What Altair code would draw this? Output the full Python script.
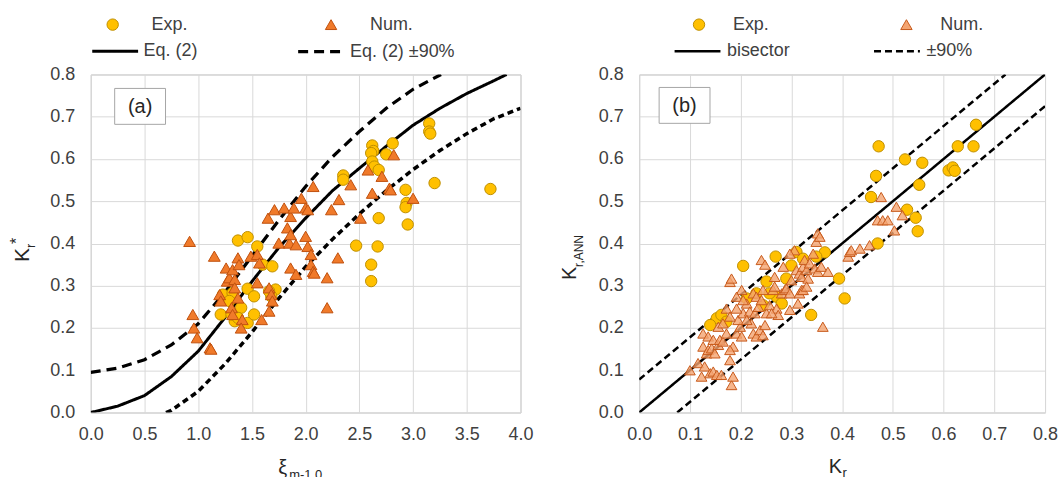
import altair as alt
import pandas as pd

FONT = "Liberation Sans"
TXT = "#404040"

# ---------------- Panel (a) data ----------------
a_exp_x = [3.15, 3.15, 3.16, 3.20, 3.72, 2.93, 2.94, 2.93, 2.95, 2.81, 2.75, 2.62, 2.63, 2.61,
           2.62, 2.64, 2.68, 2.68, 2.67, 2.61, 2.61, 2.47, 2.35, 2.35, 1.37, 1.46, 1.55, 1.60,
           1.69, 1.72, 1.46, 1.52, 1.23, 1.21, 1.32, 1.34, 1.31, 1.40, 1.46, 1.52, 1.68, 1.66,
           1.29, 1.37]
a_exp_y = [0.684, 0.665, 0.660, 0.543, 0.529, 0.527, 0.496, 0.486, 0.445, 0.637, 0.611, 0.632,
           0.619, 0.614, 0.594, 0.582, 0.574, 0.460, 0.393, 0.350, 0.311, 0.395, 0.561, 0.551,
           0.407, 0.415, 0.393, 0.350, 0.346, 0.291, 0.293, 0.275, 0.279, 0.232, 0.283, 0.216,
           0.232, 0.248, 0.212, 0.232, 0.275, 0.287, 0.264, 0.224]

a_num_x = [0.92, 0.95, 0.96, 0.99, 1.11, 1.12, 1.15, 1.20, 1.21, 1.26, 1.27, 1.29, 1.32, 1.34,
           1.34, 1.31, 1.32, 1.37, 1.38, 1.37, 1.41, 1.40, 1.49, 1.55, 1.57, 1.55, 1.59, 1.65,
           1.71, 1.66, 1.68, 1.69, 1.66, 1.75, 1.80, 1.83, 1.85, 1.86, 1.86, 1.89, 1.91, 1.86,
           1.91, 1.96, 2.00, 2.02, 2.00, 2.02, 2.05, 2.05, 2.07, 2.08, 2.07, 2.20, 2.20, 2.24,
           2.30, 2.31, 2.42, 2.51, 2.58, 2.62, 2.71, 2.78, 2.79, 2.82, 3.00]
a_num_y = [0.405, 0.232, 0.200, 0.177, 0.153, 0.150, 0.370, 0.279, 0.264, 0.342, 0.311, 0.319,
           0.338, 0.315, 0.295, 0.248, 0.232, 0.366, 0.350, 0.271, 0.220, 0.200, 0.370, 0.374,
           0.354, 0.307, 0.220, 0.460, 0.480, 0.295, 0.279, 0.264, 0.240, 0.401, 0.484, 0.437,
           0.401, 0.421, 0.464, 0.484, 0.397, 0.342, 0.327, 0.507, 0.484, 0.480, 0.417, 0.393,
           0.374, 0.350, 0.334, 0.330, 0.535, 0.319, 0.248, 0.480, 0.366, 0.504, 0.539, 0.460,
           0.574, 0.519, 0.559, 0.531, 0.527, 0.610, 0.507]

# Eq. (2) curve and its +/-90% band
eq_x = [0.0, 0.25, 0.5, 0.75, 1.0, 1.25, 1.5, 1.75, 2.0, 2.25, 2.5, 2.75, 3.0, 3.25, 3.5, 3.75, 3.87]
eq_y = [0.0, 0.015, 0.040, 0.085, 0.145, 0.225, 0.310, 0.390, 0.460, 0.525, 0.578, 0.630, 0.680,
        0.720, 0.755, 0.785, 0.800]
up_x = [0.0, 0.25, 0.5, 0.75, 1.0, 1.25, 1.5, 1.75, 2.0, 2.25, 2.5, 2.75, 3.0, 3.26]
up_y = [0.095, 0.105, 0.125, 0.160, 0.210, 0.285, 0.370, 0.455, 0.535, 0.605, 0.665, 0.720, 0.765, 0.800]
lo_x = [0.70, 0.75, 1.0, 1.25, 1.5, 1.75, 2.0, 2.25, 2.5, 2.75, 3.0, 3.25, 3.5, 3.75, 4.0]
lo_y = [0.0, 0.005, 0.050, 0.115, 0.190, 0.270, 0.345, 0.410, 0.470, 0.525, 0.575, 0.620, 0.660, 0.695, 0.720]

# ---------------- Panel (b) data ----------------
b_exp_x = [0.664, 0.628, 0.659, 0.610, 0.618, 0.622, 0.558, 0.524, 0.472, 0.467, 0.457, 0.552,
           0.528, 0.545, 0.549, 0.470, 0.366, 0.349, 0.310, 0.269, 0.300, 0.205, 0.394, 0.405,
           0.339, 0.290, 0.251, 0.271, 0.244, 0.212, 0.281, 0.153, 0.162, 0.140, 0.172, 0.257,
           0.231, 0.323]
b_exp_y = [0.681, 0.630, 0.630, 0.573, 0.580, 0.572, 0.591, 0.599, 0.630, 0.560, 0.510, 0.539,
           0.480, 0.461, 0.429, 0.400, 0.379, 0.369, 0.380, 0.369, 0.348, 0.347, 0.317, 0.270,
           0.231, 0.317, 0.310, 0.274, 0.254, 0.270, 0.258, 0.223, 0.231, 0.207, 0.215, 0.282,
           0.282, 0.364]

b_num_x = [0.100, 0.116, 0.123, 0.129, 0.140, 0.146, 0.153, 0.162, 0.182, 0.185, 0.179, 0.126,
           0.133, 0.136, 0.143, 0.149, 0.156, 0.126, 0.136, 0.146, 0.159, 0.165, 0.172, 0.185,
           0.179, 0.156, 0.165, 0.172, 0.179, 0.182, 0.192, 0.202, 0.199, 0.195, 0.205, 0.192,
           0.202, 0.212, 0.218, 0.221, 0.225, 0.231, 0.238, 0.244, 0.248, 0.228, 0.235, 0.225,
           0.231, 0.241, 0.244, 0.241, 0.248, 0.251, 0.257, 0.264, 0.267, 0.267, 0.271, 0.274,
           0.261, 0.281, 0.287, 0.290, 0.297, 0.297, 0.300, 0.306, 0.310, 0.316, 0.320, 0.323,
           0.326, 0.330, 0.333, 0.313, 0.316, 0.320, 0.323, 0.330, 0.336, 0.343, 0.346, 0.349,
           0.352, 0.356, 0.352, 0.359, 0.372, 0.362, 0.412, 0.415, 0.418, 0.435, 0.454, 0.477,
           0.470, 0.480, 0.490, 0.503, 0.507, 0.519, 0.297, 0.284, 0.179, 0.192, 0.205, 0.212]
b_num_y = [0.100, 0.117, 0.085, 0.109, 0.093, 0.097, 0.089, 0.089, 0.065, 0.085, 0.124, 0.156,
           0.140, 0.148, 0.152, 0.140, 0.160, 0.187, 0.180, 0.172, 0.172, 0.168, 0.187, 0.156,
           0.148, 0.203, 0.211, 0.246, 0.309, 0.317, 0.187, 0.180, 0.203, 0.219, 0.235, 0.246,
           0.290, 0.258, 0.239, 0.211, 0.187, 0.180, 0.195, 0.183, 0.207, 0.235, 0.250, 0.282,
           0.274, 0.266, 0.290, 0.361, 0.350, 0.235, 0.254, 0.290, 0.321, 0.298, 0.246, 0.231,
           0.235, 0.282, 0.290, 0.294, 0.282, 0.243, 0.313, 0.384, 0.337, 0.329, 0.321, 0.345,
           0.361, 0.337, 0.317, 0.258, 0.282, 0.290, 0.290, 0.298, 0.353, 0.376, 0.341, 0.404,
           0.424, 0.416, 0.333, 0.345, 0.333, 0.203, 0.369, 0.380, 0.384, 0.388, 0.396, 0.510,
           0.455, 0.455, 0.455, 0.431, 0.487, 0.467, 0.376, 0.345, 0.227, 0.274, 0.266, 0.219]

bis_x = [0.0, 0.8]
bis_y = [0.0, 0.8]
bup_x = [0.0, 0.722]
bup_y = [0.078, 0.8]
blo_x = [0.075, 0.8]
blo_y = [0.0, 0.725]

a_ticks_x = [0.0, 0.5, 1.0, 1.5, 2.0, 2.5, 3.0, 3.5, 4.0]
b_ticks_x = [0.0, 0.1, 0.2, 0.3, 0.4, 0.5, 0.6, 0.7, 0.8]
ticks_y = [0.0, 0.1, 0.2, 0.3, 0.4, 0.5, 0.6, 0.7, 0.8]

GOLD, GOLD_S = "#FFC000", "#BF8F00"


def points_df(xs, ys, name):
    return pd.DataFrame({"x": xs, "y": ys, "pseries": name})


def lines_df(parts):
    frames = [pd.DataFrame({"x": xs, "y": ys, "lseries": name}) for xs, ys, name in parts]
    return pd.concat(frames, ignore_index=True)


def one(**kw):
    return pd.DataFrame({k: [v] for k, v in kw.items()})


def panel(width, xdom, xticks, exp_df, num_df, num_fill, num_stroke, num_opacity, num_size,
          line_df, line_dom, dash_rng, sw_rng, pleg, lleg, box, label, titles):
    x = alt.X("x:Q", scale=alt.Scale(domain=xdom, nice=False, zero=False),
              axis=alt.Axis(values=xticks, format=".1f", title=None, labelFlush=False))
    y = alt.Y("y:Q", scale=alt.Scale(domain=[0, 0.8], nice=False, zero=False),
              axis=alt.Axis(values=ticks_y, format=".1f", title=None, labelFlush=False))

    pdom = ["Exp.", "Num."]
    shape = alt.Shape("pseries:N", scale=alt.Scale(domain=pdom, range=["circle", "triangle-up"]), legend=pleg)
    fill = alt.Fill("pseries:N", scale=alt.Scale(domain=pdom, range=[GOLD, num_fill]), legend=pleg)
    stroke = alt.Stroke("pseries:N", scale=alt.Scale(domain=pdom, range=[GOLD_S, num_stroke]), legend=pleg)

    bx0, by0, bx1, by1 = box
    rect = alt.Chart(one(a=1)).mark_rect(fill="white", stroke="#A6A6A6", strokeWidth=1).encode(
        x=alt.value(bx0), x2=alt.value(bx1), y=alt.value(by0), y2=alt.value(by1))
    lab = alt.Chart(one(t=label)).mark_text(fontSize=20, font=FONT, color="#262626",
                                            align="center", baseline="middle").encode(
        x=alt.value((bx0 + bx1) / 2), y=alt.value((by0 + by1) / 2 + 1), text="t:N")

    lines = alt.Chart(line_df).mark_line(stroke="black", clip=True).encode(
        x=x, y=y,
        strokeDash=alt.StrokeDash("lseries:N", scale=alt.Scale(domain=line_dom, range=dash_rng),
                                  legend=lleg),
        strokeWidth=alt.StrokeWidth("lseries:N", scale=alt.Scale(domain=line_dom, range=sw_rng),
                                    legend=None),
    )

    exp_l = alt.Chart(exp_df).mark_point(filled=True, opacity=1, size=130, strokeWidth=1).encode(
        x=x, y=y, shape=shape, fill=fill, stroke=stroke)
    num_l = alt.Chart(num_df).mark_point(filled=True, opacity=1, fillOpacity=num_opacity,
                                         size=num_size, strokeWidth=1).encode(
        x=x, y=y, shape=shape, fill=fill, stroke=stroke)

    tl = []
    for t in titles:
        tl.append(alt.Chart(one(t=t["text"])).mark_text(
            font=FONT, fontSize=t["size"], color="#262626", align="left",
            baseline=t.get("baseline", "alphabetic"), angle=t.get("angle", 0)).encode(
            x=alt.value(t["x"]), y=alt.value(t["y"]), text="t:N"))

    return alt.layer(rect, lab, lines, exp_l, num_l, *tl).properties(width=width, height=339)


def pleg_for(lx, ly, offset, colpad):
    return alt.Legend(orient="none", legendX=lx, legendY=ly, direction="horizontal", title=None,
                      symbolSize=130, symbolStrokeWidth=1, labelOffset=offset, columnPadding=colpad,
                      labelFontSize=18, labelFont=FONT, labelColor=TXT, padding=0)


def lleg_for(lx, ly, offset, colpad, vals):
    return alt.Legend(orient="none", legendX=lx, legendY=ly, direction="horizontal", title=None,
                      symbolType="stroke", symbolSize=2116, symbolStrokeWidth=3,
                      symbolStrokeColor="black", labelOffset=offset, columnPadding=colpad,
                      values=vals, labelFontSize=18, labelFont=FONT, labelColor=TXT, padding=0)


a_lines = lines_df([(eq_x, eq_y, "Eq. (2)"), (up_x, up_y, "Eq. (2) ±90%"), (lo_x, lo_y, "lower")])
b_lines = lines_df([(bis_x, bis_y, "bisector"), (bup_x, bup_y, "±90%"), (blo_x, blo_y, "lower")])

chart_a = panel(
    431, [0, 4], a_ticks_x,
    points_df(a_exp_x, a_exp_y, "Exp."), points_df(a_num_x, a_num_y, "Num."),
    "#F07A2A", "#C0500E", 1, 140,
    a_lines, ["Eq. (2)", "Eq. (2) ±90%", "lower"], [[1, 0], [10, 6], [6, 4]], [3, 3.5, 2.3],
    pleg_for(13, -59, 30, 134), lleg_for(0, -48, 4, 93, ["Eq. (2)", "Eq. (2) ±90%"]),
    (24, 14, 75, 50), "(a)",
    [
        {"text": "K", "size": 21, "x": -68, "y": 188, "angle": 270, "baseline": "middle"},
        {"text": "r", "size": 13, "x": -60, "y": 174, "angle": 270, "baseline": "middle"},
        {"text": "*", "size": 16, "x": -74, "y": 170, "angle": 270, "baseline": "middle"},
        {"text": "ξ", "size": 20, "x": 188, "y": 401},
        {"text": "m-1,0", "size": 13, "x": 199, "y": 406},
    ],
)

chart_b = panel(
    407, [0, 0.8], b_ticks_x,
    points_df(b_exp_x, b_exp_y, "Exp."), points_df(b_num_x, b_num_y, "Num."),
    "#F4A470", "#C85A1C", 0.8, 115,
    b_lines, ["bisector", "±90%", "lower"], [[1, 0], [7, 4], [7, 4]], [2.5, 2.5, 2.5],
    pleg_for(51, -59, 25, 128), lleg_for(34, -48, 5, 78, ["bisector", "±90%"]),
    (20, 13, 71, 49), "(b)",
    [
        {"text": "K", "size": 20, "x": -69, "y": 206, "angle": 270, "baseline": "middle"},
        {"text": "r,ANN", "size": 12, "x": -60, "y": 193, "angle": 270, "baseline": "middle"},
        {"text": "K", "size": 20, "x": 190, "y": 400},
        {"text": "r", "size": 13, "x": 204, "y": 404},
    ],
)

chart = alt.hconcat(chart_a, chart_b, spacing=25).resolve_scale(
    x="independent", y="independent", shape="independent", fill="independent",
    stroke="independent", strokeDash="independent", strokeWidth="independent"
).resolve_legend(
    shape="independent", fill="independent", stroke="independent", strokeDash="independent"
).properties(
    padding={"left": 8, "top": 14, "right": 0, "bottom": 0}
).configure_view(
    stroke="#BFBFBF", strokeWidth=1
).configure_axis(
    grid=True, gridColor="#D9D9D9", gridWidth=1, domain=False, ticks=False,
    labelFont=FONT, labelFontSize=18, labelColor=TXT, labelPadding=13
).configure_axisY(labelPadding=16)

chart.save("out.html", embed_options={"renderer": "svg", "actions": False})
